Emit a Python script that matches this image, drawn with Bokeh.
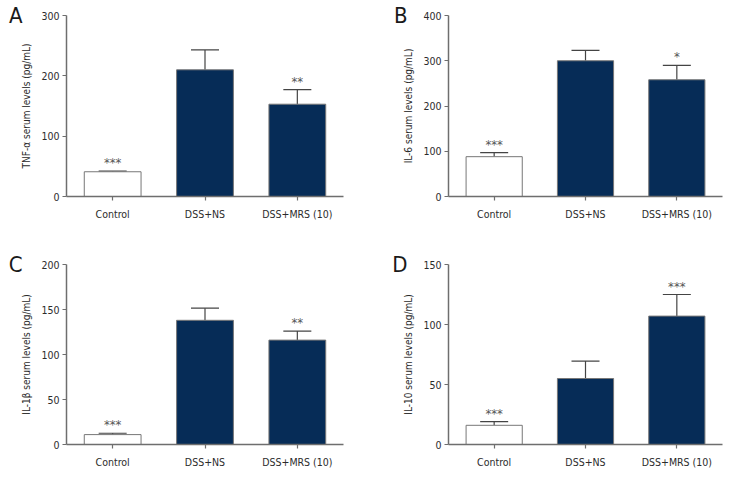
from bokeh.plotting import figure
from bokeh.models import (FactorRange, Range1d, FixedTicker, Whisker, TeeHead,
                          ColumnDataSource, LinearAxis)
from bokeh.layouts import gridplot
from bokeh.embed import file_html
from bokeh.resources import INLINE
from bokeh.core.properties import value

categories = ["Control", "DSS+NS", "DSS+MRS (10)"]

tnf_mean = [41, 210, 153]
tnf_err = [1, 33, 24]
tnf_sig = ["***", "", "**"]

il6_mean = [88, 300, 258]
il6_err = [9, 23, 32]
il6_sig = ["***", "", "*"]

il1b_mean = [11, 138, 116]
il1b_err = [1.5, 13.5, 10]
il1b_sig = ["***", "", "**"]

il10_mean = [16, 55, 107]
il10_err = [3, 14.5, 18]
il10_sig = ["***", "", "***"]

FONT = "'DejaVu Sans Condensed', 'Liberation Sans Narrow', sans-serif"
NAVY = "#062c57"
AXIS = "#6e6e6e"
TXT = "#2b2b2b"


def panel(letter, ylabel, means, errs, sigs, ymax, step, left, top, bottom, right,
          letter_shift):
    p = figure(x_range=FactorRange(factors=categories, range_padding=0),
               y_range=Range1d(0, ymax),
               width=372, height=240, output_backend="svg", toolbar_location=None,
               min_border_left=left, min_border_top=top,
               min_border_bottom=bottom, min_border_right=right)
    p.outline_line_color = None
    p.xgrid.grid_line_color = None
    p.ygrid.grid_line_color = None

    upper = [m + e for m, e in zip(means, errs)]
    fills = ["white", NAVY, NAVY]
    src = ColumnDataSource(dict(x=categories, top=means, upper=upper,
                                fill=fills, sig=sigs))
    w = Whisker(source=src, base="x", lower="top", upper="upper",
                dimension="height", line_color="#444444", line_width=1.2,
                lower_head=None,
                upper_head=TeeHead(size=28, line_color="#444444", line_width=1.2),
                level="underlay")
    p.add_layout(w)
    p.vbar(x="x", top="top", width=0.615, source=src, fill_color="fill",
           line_color="#777777", line_width=1)
    p.text(x="x", y="upper", text="sig", source=src, text_align="center",
           text_baseline="bottom", y_offset=-1, text_font=value(FONT),
           text_font_size="13px", text_color="#555555")

    p.yaxis.ticker = FixedTicker(ticks=list(range(0, ymax + 1, step)))
    p.yaxis.axis_label = ylabel
    p.yaxis.axis_label_text_font = FONT
    p.yaxis.axis_label_text_font_size = "10px"
    p.yaxis.axis_label_text_font_style = "normal"
    p.yaxis.axis_label_text_color = TXT
    p.yaxis.axis_label_standoff = 6
    for ax in (p.xaxis, p.yaxis):
        ax.axis_line_color = AXIS
        ax.axis_line_width = 1.5
        ax.major_tick_line_color = AXIS
        ax.major_tick_line_width = 1.2
        ax.major_tick_out = 4
        ax.major_tick_in = 0
        ax.minor_tick_line_color = None
        ax.major_label_text_font = FONT
        ax.major_label_text_font_size = "10.5px"
        ax.major_label_text_color = TXT
    p.yaxis.major_label_standoff = 3
    p.xaxis.major_label_standoff = 7

    # panel letter, set as the single label of an outer left axis
    lax = LinearAxis(ticker=FixedTicker(ticks=[ymax]),
                     major_label_overrides={ymax: letter},
                     axis_line_color=None, major_tick_line_color=None,
                     minor_tick_line_color=None, major_tick_out=0, major_tick_in=0,
                     major_label_standoff=letter_shift, major_label_text_font=FONT,
                     major_label_text_font_size="22px",
                     major_label_text_color="#1a1a1a")
    p.add_layout(lax, "left")
    return p


pA = panel("A", "TNF-α serum levels (pg/mL)", tnf_mean, tnf_err, tnf_sig, 300, 100,
           66, 15, 44, 29, -4)
pB = panel("B", "IL-6 serum levels (pg/mL)", il6_mean, il6_err, il6_sig, 400, 100,
           76, 15, 44, 22, -7)
pC = panel("C", "IL-1β serum levels (pg/mL)", il1b_mean, il1b_err, il1b_sig, 200, 50,
           66, 24, 36, 29, -4)
pD = panel("D", "IL-10 serum levels (pg/mL)", il10_mean, il10_err, il10_sig, 150, 50,
           76, 24, 36, 22, -7)

grid = gridplot([[pA, pB], [pC, pD]], toolbar_location=None)
open("out.html", "w").write(file_html(grid, INLINE))
